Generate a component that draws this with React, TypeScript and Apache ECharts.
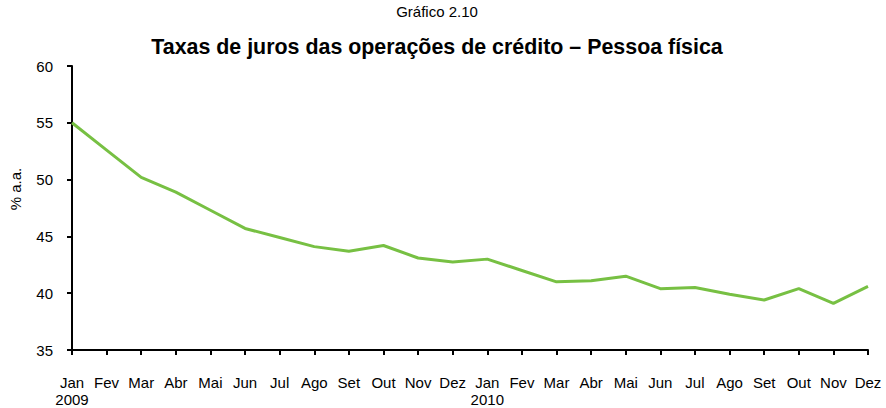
import React, { useEffect, useRef } from "react";
import * as echarts from "echarts";

const months = ["Jan", "Fev", "Mar", "Abr", "Mai", "Jun", "Jul", "Ago", "Set", "Out", "Nov", "Dez"];
const years = ["2009", "2010"];
const categories: string[] = years.flatMap((y) => months.map((m, i) => (i === 0 ? `${m}\n${y}` : m)));
const rates = [
  55.0, 52.6, 50.2, 48.9, 47.3, 45.7, 44.9, 44.1, 43.7, 44.2, 43.1, 42.75,
  43.0, 42.0, 41.0, 41.1, 41.5, 40.4, 40.5, 39.9, 39.4, 40.4, 39.1, 40.6,
];
const yTicks = { min: 35, max: 60, interval: 5 };

export default function App() {
  const ref = useRef<HTMLDivElement>(null);
  useEffect(() => {
    if (!ref.current) return;
    const chart = echarts.init(ref.current, null, { renderer: "svg" });
    const font = "'Liberation Sans', Arial, sans-serif";
    chart.setOption({
      animation: false,
      backgroundColor: "#ffffff",
      textStyle: { fontFamily: font },
      title: [
        {
          text: "Gráfico 2.10",
          left: 432,
          top: -1,
          textAlign: "center",
          textStyle: { fontFamily: font, fontSize: 15, fontWeight: "normal", color: "#000" },
        },
        {
          text: "Taxas de juros das operações de crédito – Pessoa física",
          left: 432,
          top: 31,
          textAlign: "center",
          textStyle: { fontFamily: font, fontSize: 21.4, fontWeight: "bold", color: "#000" },
        },
      ],
      graphic: [
        {
          type: "text",
          x: 15,
          y: 189,
          rotation: Math.PI / 2,
          style: {
            text: "% a.a.",
            fontFamily: font,
            fontSize: 15,
            fill: "#000",
            align: "center",
            verticalAlign: "middle",
          },
        },
      ],
      grid: { left: 72, right: 18, top: 66, bottom: 56 },
      xAxis: {
        type: "category",
        data: categories,
        boundaryGap: false,
        axisLine: { lineStyle: { color: "#000", width: 2 } },
        axisTick: { show: true, length: 5, lineStyle: { color: "#000", width: 2 }, alignWithLabel: true },
        axisLabel: {
          interval: 0,
          margin: 24,
          color: "#000",
          fontFamily: font,
          fontSize: 15,
          lineHeight: 17,
        },
        splitLine: { show: false },
      },
      yAxis: {
        type: "value",
        min: yTicks.min,
        max: yTicks.max,
        interval: yTicks.interval,
        axisLine: { show: true, lineStyle: { color: "#000", width: 2 } },
        axisTick: { show: true, length: 5, lineStyle: { color: "#000", width: 2 } },
        axisLabel: { color: "#000", fontFamily: font, fontSize: 15, margin: 19 },
        splitLine: { show: false },
      },
      series: [
        {
          type: "line",
          data: rates,
          showSymbol: false,
          symbol: "none",
          lineStyle: { color: "#77c043", width: 3 },
        },
      ],
    });
    return () => chart.dispose();
  }, []);
  return <div ref={ref} style={{ width: 886, height: 408, position: "absolute", left: 0, top: 0 }} />;
}
